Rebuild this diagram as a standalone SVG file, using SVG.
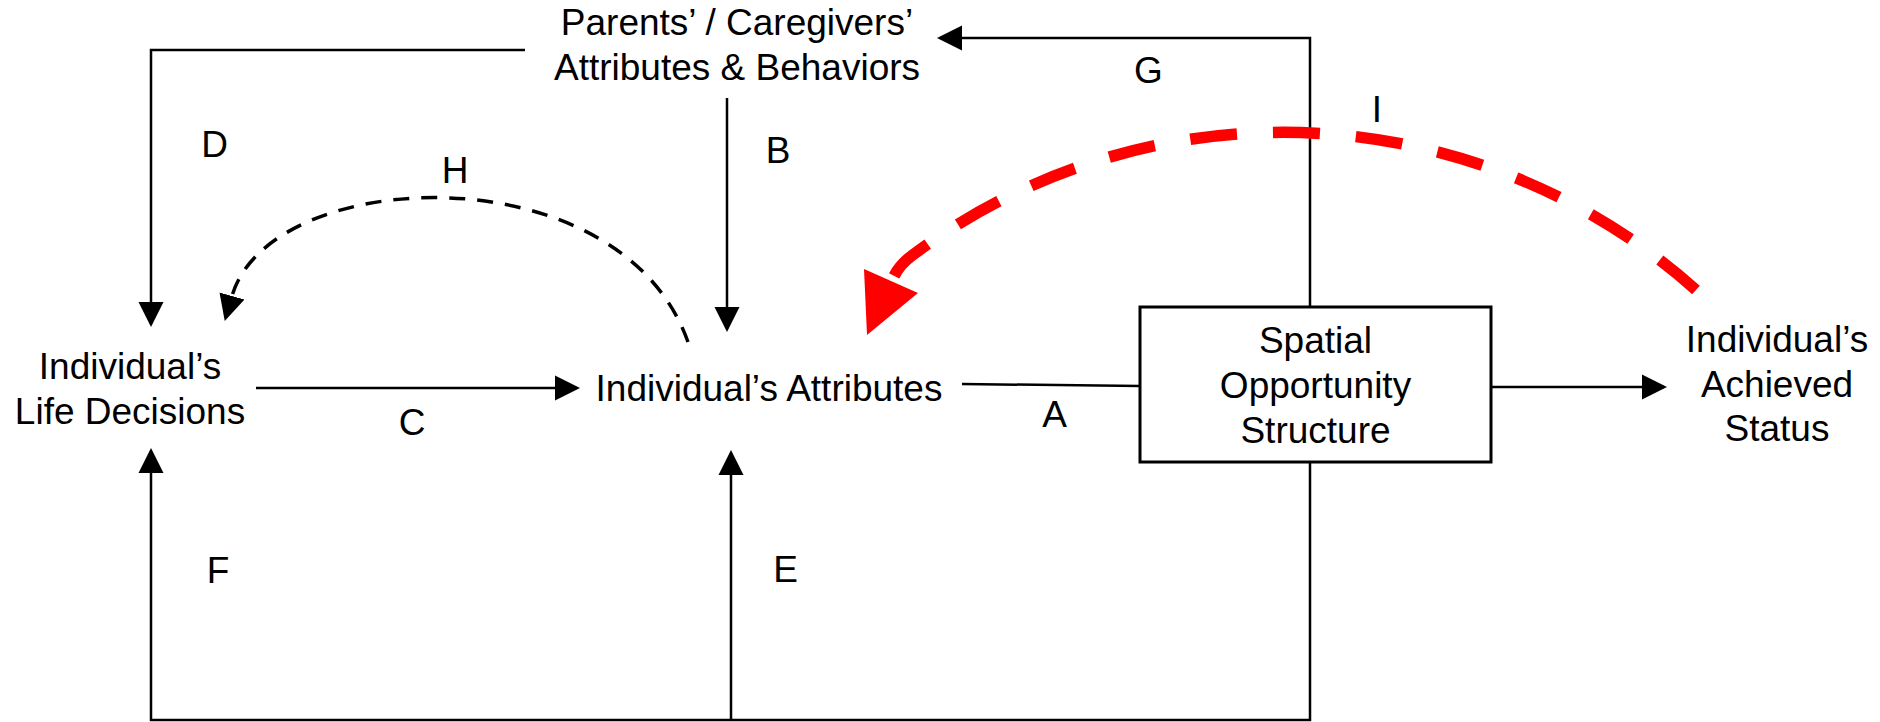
<svg xmlns="http://www.w3.org/2000/svg" width="1880" height="722" viewBox="0 0 1880 722">
<style>
text{font-family:"Liberation Sans",Arial,sans-serif;font-size:37px;fill:#000;text-anchor:middle}
.ln{fill:none;stroke:#000;stroke-width:2.5}
.arr{marker-end:url(#ah)}
</style>
<defs>
<marker id="ah" markerUnits="userSpaceOnUse" markerWidth="26" markerHeight="26" refX="22" refY="12.5" orient="auto" viewBox="0 0 26 25">
<path d="M0,0 L25,12.5 L0,25 z" fill="#000"/>
</marker>
<marker id="ahh" markerUnits="userSpaceOnUse" markerWidth="27" markerHeight="27" refX="0" refY="13" orient="auto" viewBox="0 0 27 26">
<path d="M0,0 L26,13 L0,26 z" fill="#000"/>
</marker>
</defs>
<rect width="1880" height="722" fill="#fff"/>
<g id="connectors">
<path class="ln arr" d="M525,50 H151 V324"/>
<path class="ln arr" d="M727,98 V329"/>
<path class="ln arr" d="M256,388 H577"/>
<path class="ln" d="M962,384 L1140,386"/>
<path class="ln arr" d="M1310,307 V38 H940"/>
<path class="ln arr" d="M1491,387 H1664"/>
<path class="ln arr" d="M1310,462 V720 H151 V451"/>
<path class="ln arr" d="M731,720 V453"/>
<path d="M688,342 C620,150 270,165 232,296" fill="none" stroke="#000" stroke-width="3.5" stroke-dasharray="16 12" marker-end="url(#ahh)"/>
<path d="M1696,290 A620,620 0 0 0 912,255.5 C904,261.5 897,267.5 891,283" fill="none" stroke="#f00" stroke-width="11.5" stroke-dasharray="47 36"/>
<polygon points="867,335 864,269 918,293" fill="#f00"/>
</g>
<g id="parents"><text x="737" y="35">Parents’ / Caregivers’</text><text x="737" y="80">Attributes &amp; Behaviors</text></g>
<g id="decisions"><text x="130" y="379">Individual’s</text><text x="130" y="424">Life Decisions</text></g>
<g id="attributes"><text x="769" y="401">Individual’s Attributes</text></g>
<g id="spatial"><rect x="1140" y="307" width="351" height="155" fill="none" stroke="#000" stroke-width="3"/><text x="1315.5" y="353">Spatial</text><text x="1315.5" y="398">Opportunity</text><text x="1315.5" y="443">Structure</text></g>
<g id="achieved"><text x="1777" y="352">Individual’s</text><text x="1777" y="397">Achieved</text><text x="1777" y="441">Status</text></g>
<g id="labels">
<text x="214.5" y="157">D</text>
<text x="455" y="183">H</text>
<text x="778" y="163">B</text>
<text x="1148.5" y="83">G</text>
<text x="1377" y="122">I</text>
<text x="412" y="435">C</text>
<text x="1054.5" y="427">A</text>
<text x="218" y="583">F</text>
<text x="785.5" y="582">E</text>
</g>
</svg>
